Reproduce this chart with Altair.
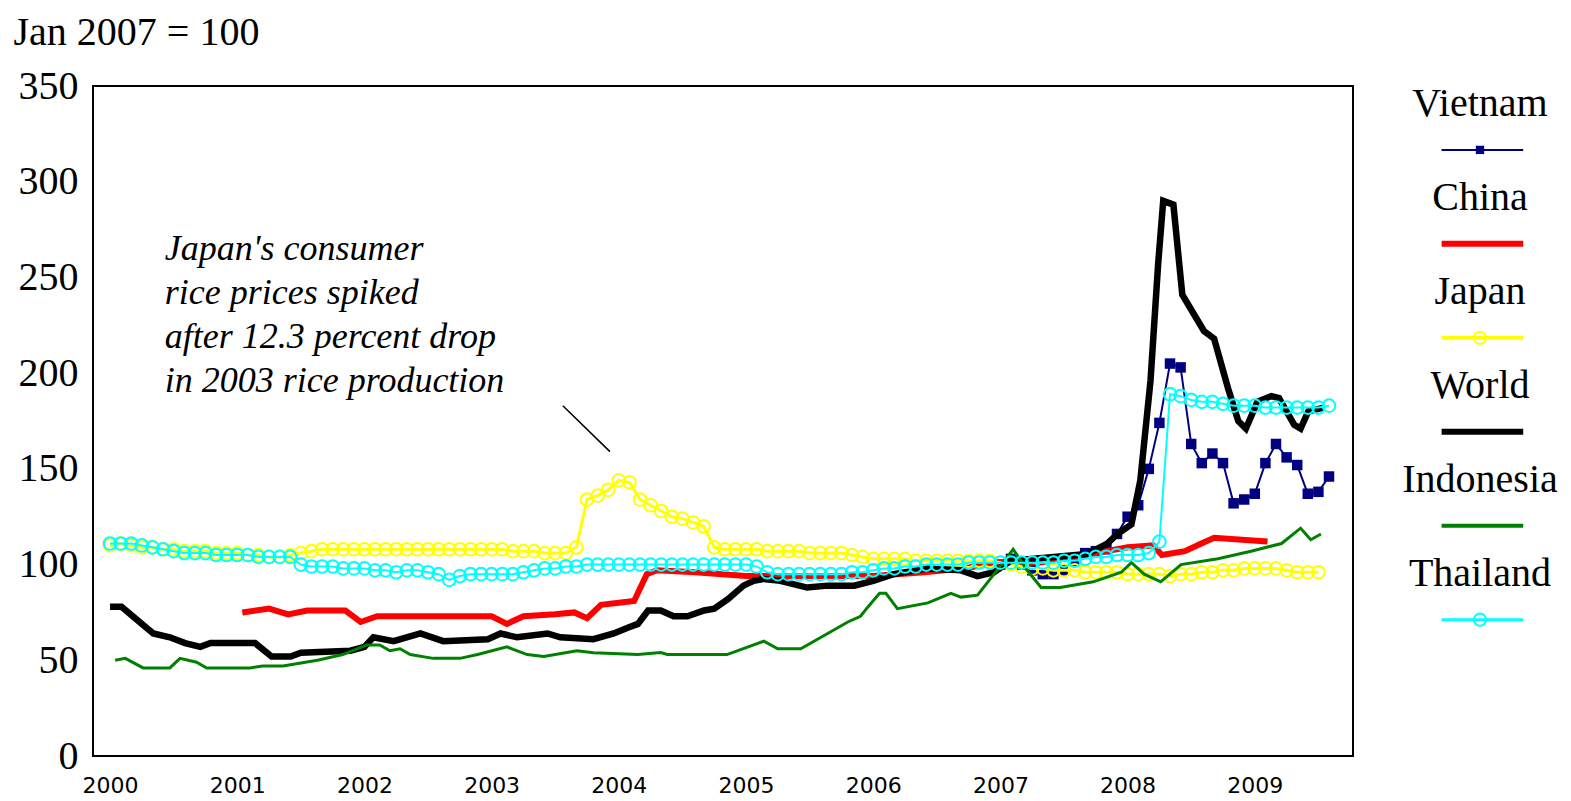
import altair as alt
import pandas as pd

# ---------------- data ----------------
year_ticks = [2000, 2001, 2002, 2003, 2004, 2005, 2006, 2007, 2008, 2009]
y_ticks = [0, 50, 100, 150, 200, 250, 300, 350]

series_names = ["Vietnam", "China", "Japan", "World", "Indonesia", "Thailand"]
series_colors = ["#000080", "#FF0000", "#FFFF00", "#000000", "#008000", "#00FFFF"]

# monthly series (first month index counted from Jan 2000)
japan_start = 0
japan = [110, 111, 110, 109, 109, 108, 108, 107, 107, 107, 106, 106,
         106, 105, 105, 104, 104, 105, 106, 107, 108, 108, 108, 108,
         108, 108, 108, 108, 108, 108, 108, 108, 108, 108, 108, 108,
         108, 108, 107, 107, 107, 106, 106, 106, 109, 134, 136, 139,
         144, 143, 134, 131, 128, 125, 124, 122, 120, 109, 108, 108,
         108, 108, 107, 107, 107, 107, 106, 106, 106, 106, 105, 104,
         103, 103, 103, 103, 102, 102, 102, 102, 102, 102, 102, 102,
         101, 100, 99, 98, 98, 97, 97, 97, 96, 96, 96, 96,
         95, 95, 95, 95, 94, 95, 95, 96, 96, 97, 97, 98,
         98, 98, 98, 97, 96, 96, 96]

thailand_start = 0
thailand = [111, 111, 111, 110, 109, 108, 107, 106, 106, 106, 105, 105,
            105, 105, 104, 104, 104, 104, 100, 99, 99, 99, 98, 98,
            98, 97, 97, 96, 97, 97, 96, 95, 92, 94, 95, 95,
            95, 95, 95, 96, 97, 98, 98, 99, 99, 100, 100, 100,
            100, 100, 100, 100, 100, 100, 100, 100, 100, 100, 100, 100,
            100, 99, 96, 95, 95, 95, 95, 95, 95, 95, 96, 96,
            97, 98, 98, 99, 99, 100, 100, 100, 100, 101, 101, 101,
            101, 101, 101, 101, 101, 101, 102, 102, 103, 104, 104, 105,
            105, 105, 106, 112, 189, 188, 186, 185, 185, 184, 183, 183,
            183, 182, 182, 182, 182, 182, 182, 183]

vietnam_start = 84
vietnam = [100, 103, 100, 97, 95, 95, 97, 102, 106, 107, 108, 116,
           125, 131, 150, 174, 205, 203, 163, 153, 158, 153, 132, 134,
           137, 153, 163, 156, 152, 137, 138, 146]

# line-only series: (decimal year, value)
world_x = [2000.00, 2000.09, 2000.34, 2000.47, 2000.59, 2000.71, 2000.79, 2001.14,
           2001.27, 2001.42, 2001.50, 2001.89, 2002.00, 2002.07, 2002.23, 2002.44,
           2002.62, 2002.97, 2003.07, 2003.20, 2003.44, 2003.54, 2003.80, 2003.96,
           2004.07, 2004.15, 2004.23, 2004.33, 2004.43, 2004.54, 2004.67, 2004.75,
           2004.86, 2004.98, 2005.06, 2005.14, 2005.27, 2005.48, 2005.64, 2005.85,
           2006.00, 2006.16, 2006.43, 2006.69, 2006.82, 2006.95, 2007.08, 2007.42,
           2007.68, 2007.84, 2007.92, 2008.03, 2008.10, 2008.18, 2008.24, 2008.28,
           2008.36, 2008.43, 2008.60, 2008.68, 2008.79, 2008.87, 2008.93, 2009.02,
           2009.13, 2009.19, 2009.31, 2009.36, 2009.42, 2009.54]
world_y = [78, 78, 64, 62, 59, 57, 59, 59,
           52, 52, 54, 55, 57, 62, 60, 64,
           60, 61, 64, 62, 64, 62, 61, 64,
           67, 69, 76, 76, 73, 73, 76, 77,
           82, 89, 91.5, 92.5, 91.5, 88, 89, 89,
           91.5, 95, 98, 97, 94, 96, 102, 104,
           105.5, 111, 116, 121, 144, 196, 257, 290,
           288, 241, 222, 218, 192, 175, 171, 185,
           188, 187, 173, 171, 180, 182]

china_x = [2001.04, 2001.25, 2001.40, 2001.55, 2001.85, 2001.97, 2002.10, 2002.50,
           2003.00, 2003.12, 2003.25, 2003.50, 2003.65, 2003.75, 2003.86, 2004.00,
           2004.12, 2004.22, 2004.30, 2004.60, 2005.00, 2005.50, 2006.00, 2006.40,
           2006.70, 2007.00, 2007.30, 2007.50, 2007.75, 2008.00, 2008.20, 2008.27,
           2008.45, 2008.58, 2008.68, 2008.90, 2009.10]
china_y = [75, 77, 74, 76, 76, 70, 73, 73,
           73, 69, 73, 74, 75, 72, 79, 80,
           81, 95, 97, 96, 94, 94, 94, 96,
           98, 101, 101, 103, 106, 109, 110, 105,
           107, 111, 114, 113, 112]

indo_x = [2000.04, 2000.12, 2000.26, 2000.47, 2000.55, 2000.68, 2000.76, 2001.10,
          2001.20, 2001.36, 2001.63, 2001.83, 2002.02, 2002.12, 2002.20, 2002.28,
          2002.36, 2002.54, 2002.75, 2002.89, 2003.12, 2003.28, 2003.41, 2003.67,
          2003.80, 2004.15, 2004.33, 2004.38, 2004.85, 2005.14, 2005.25, 2005.43,
          2005.59, 2005.80, 2005.90, 2005.96, 2006.05, 2006.10, 2006.19, 2006.43,
          2006.61, 2006.69, 2006.82, 2006.95, 2007.10, 2007.21, 2007.32, 2007.47,
          2007.73, 2007.95, 2008.03, 2008.13, 2008.26, 2008.42, 2008.71, 2008.97,
          2009.21, 2009.36, 2009.44, 2009.52]
indo_y = [50, 51, 46, 46, 51, 49, 46, 46,
          47, 47, 50, 53, 58, 58, 55, 56,
          53, 51, 51, 53, 57, 53, 52, 55,
          54, 53, 54, 53, 53, 60, 56, 56,
          62, 70, 73, 78, 85, 85, 77, 80,
          85, 83, 84, 95, 108, 97, 88, 88,
          91, 96, 101, 95, 91, 100, 103, 107,
          111, 119, 113, 116]

# annotation
note_lines = ["Japan's consumer", "rice prices spiked",
              "after 12.3 percent drop", "in 2003 rice production"]
note_x = [2000.43, 2000.43, 2000.43, 2000.43]
note_y = [265, 242, 219, 196]
pointer_x = [2003.56]
pointer_x2 = [2003.93]
pointer_y = [183]
pointer_y2 = [159]

# ---------------- build tables ----------------
def monthly(start, values):
    return pd.DataFrame({"year": [2000 + (start + i) / 12 for i in range(len(values))],
                         "value": values})

df_japan = monthly(japan_start, japan)
df_thai = monthly(thailand_start, thailand)
df_viet = monthly(vietnam_start, vietnam)
df_world = pd.DataFrame({"year": world_x, "value": world_y})
df_china = pd.DataFrame({"year": china_x, "value": china_y})
df_indo = pd.DataFrame({"year": indo_x, "value": indo_y})

SERIF = "Liberation Serif"

xscale = alt.Scale(domain=[1999.866, 2009.772], nice=False, zero=False)
yscale = alt.Scale(domain=[0, 350], nice=False)

xenc = alt.X("year:Q", scale=xscale,
             axis=alt.Axis(values=year_ticks, format="d", title=None, grid=False,
                           ticks=False, domain=False, labelFont="DejaVu Sans",
                           labelFontSize=22, labelPadding=19, labelColor="#000",
                           labelFlush=False))
yenc = alt.Y("value:Q", scale=yscale,
             axis=alt.Axis(values=y_ticks, title="Jan 2007 = 100", grid=False,
                           ticks=False, domain=False, labelFont=SERIF,
                           labelFontSize=40, labelPadding=15, labelColor="#000",
                           labelFlush=False,
                           titleAngle=0, titleAlign="left", titleBaseline="middle",
                           titleX=-80, titleY=-54, titleFont=SERIF, titleFontSize=40,
                           titleFontWeight="normal", titleColor="#000"))


def line(df, color, width):
    return alt.Chart(df).mark_line(color=color, strokeWidth=width).encode(x=xenc, y=yenc)


viet_line = line(df_viet, "#000080", 2)
viet_pts = alt.Chart(df_viet).mark_point(shape="square", filled=True, color="#000080",
                                         size=110, opacity=1).encode(x=xenc, y=yenc)
china_line = line(df_china, "#FF0000", 6)
japan_line = line(df_japan, "#FFFF00", 3)
japan_pts = alt.Chart(df_japan).mark_point(shape="circle", filled=False, color="#FFFF00",
                                           size=160, strokeWidth=2, opacity=1).encode(x=xenc, y=yenc)
world_line = line(df_world, "#000000", 6.5)
indo_line = line(df_indo, "#008000", 3)
thai_line = line(df_thai, "#00FFFF", 2)
thai_pts = alt.Chart(df_thai).mark_point(shape="circle", filled=False, color="#00FFFF",
                                         size=160, strokeWidth=2, opacity=1).encode(x=xenc, y=yenc)

df_note = pd.DataFrame({"year": note_x, "value": note_y, "text": note_lines})
note = alt.Chart(df_note).mark_text(align="left", baseline="middle", font=SERIF,
                                    fontStyle="italic", fontSize=36, color="#000").encode(
    x=xenc, y=yenc, text="text:N")
df_ptr = pd.DataFrame({"year": pointer_x, "year2": pointer_x2,
                       "value": pointer_y, "value2": pointer_y2})
pointer = alt.Chart(df_ptr).mark_rule(color="#000", strokeWidth=1.5).encode(
    x=xenc, x2="year2:Q", y=yenc, y2="value2:Q")

main = alt.layer(viet_line, viet_pts, china_line, japan_line, japan_pts, world_line,
                 indo_line, thai_line, thai_pts, note, pointer).properties(
    width=1260, height=670,
    view=alt.ViewBackground(stroke="#000", strokeWidth=2))

# ---------------- legend panel ----------------
line_widths = [2, 6, 4, 6, 4, 3]
n = len(series_names)
leg = pd.DataFrame({
    "name": series_names,
    "color": series_colors,
    "w": line_widths,
    "label_y": [i for i in range(n)],
    "line_y": [i + 0.49 for i in range(n)],
    "xc": [0.5] * n,
    "x1": [0.26] * n,
    "x2": [0.77] * n,
})
lx = alt.Scale(domain=[0, 1])
ly = alt.Scale(domain=[-0.19, 6.94], reverse=True)

leg_text = alt.Chart(leg).mark_text(font=SERIF, fontSize=40, color="#000",
                                    baseline="middle", align="center").encode(
    x=alt.X("xc:Q", scale=lx, axis=None),
    y=alt.Y("label_y:Q", scale=ly, axis=None),
    text="name:N")
leg_rule = alt.Chart(leg).mark_rule().encode(
    x=alt.X("x1:Q", scale=lx, axis=None), x2="x2:Q",
    y=alt.Y("line_y:Q", scale=ly, axis=None),
    color=alt.Color("color:N", scale=None),
    strokeWidth=alt.StrokeWidth("w:Q", scale=None))
leg_pts_sq = alt.Chart(leg).transform_filter(alt.datum.name == "Vietnam").mark_point(
    shape="square", filled=True, size=70, opacity=1).encode(
    x=alt.X("xc:Q", scale=lx, axis=None),
    y=alt.Y("line_y:Q", scale=ly, axis=None),
    color=alt.Color("color:N", scale=None))
leg_pts_c = alt.Chart(leg).transform_filter(
    (alt.datum.name == "Japan") | (alt.datum.name == "Thailand")).mark_point(
    shape="circle", filled=False, size=150, strokeWidth=2, opacity=1).encode(
    x=alt.X("xc:Q", scale=lx, axis=None),
    y=alt.Y("line_y:Q", scale=ly, axis=None),
    color=alt.Color("color:N", scale=None))

legend_panel = alt.layer(leg_rule, leg_pts_sq, leg_pts_c, leg_text).properties(
    width=160, height=670,
    view=alt.ViewBackground(stroke="transparent"))

chart = alt.hconcat(main, legend_panel, spacing=45).properties(
    padding={"left": 4, "top": 3, "right": 0, "bottom": 0},
    background="white",
).resolve_scale(color="independent", x="independent", y="independent")

chart.save("out.html", embed_options={"renderer": "svg", "actions": False})
